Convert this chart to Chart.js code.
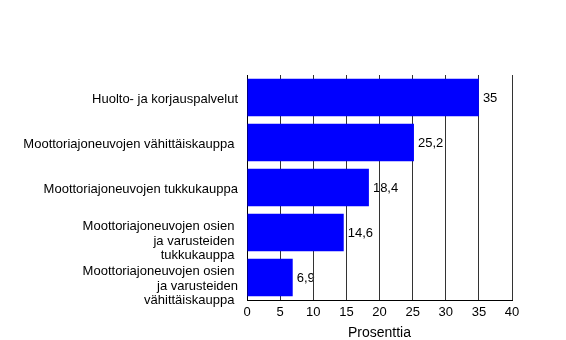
<!DOCTYPE html>
<html>
<head>
<meta charset="utf-8">
<script src="https://cdn.jsdelivr.net/npm/chart.js@4/dist/chart.umd.min.js"></script>
<style>
  body { margin: 0; background: #fff; }
  #wrap { width: 566px; height: 340px; position: relative; }
</style>
</head>
<body>
<div id="wrap"><canvas id="chart"></canvas></div>
<script>
const categories = [
  ['Huolto- ja korjauspalvelut'],
  ['Moottoriajoneuvojen vähittäiskauppa '],
  ['Moottoriajoneuvojen tukkukauppa'],
  ['Moottoriajoneuvojen osien ', 'ja varusteiden ', 'tukkukauppa '],
  ['Moottoriajoneuvojen osien ', 'ja varusteiden', 'vähittäiskauppa ']
];
const shares = [35, 25.2, 18.4, 14.6, 6.9];
const xTicks = [0, 5, 10, 15, 20, 25, 30, 35, 40];
const axisTitle = 'Prosenttia';

Chart.defaults.font.family = '"Liberation Sans", Arial, sans-serif';
Chart.defaults.color = '#000';

// value labels next to the bar ends, finnish decimal comma
const valueLabels = {
  id: 'valueLabels',
  beforeDraw(chart) {
    const ctx = chart.ctx;
    const meta = chart.getDatasetMeta(0);
    ctx.save();
    ctx.font = '13px "Liberation Sans", Arial, sans-serif';
    ctx.fillStyle = '#000';
    ctx.textAlign = 'left';
    ctx.textBaseline = 'middle';
    meta.data.forEach((bar, i) => {
      ctx.fillText(String(shares[i]).replace('.', ','), bar.x + 4, bar.y + 1);
    });
    ctx.restore();
  }
};

new Chart(document.getElementById('chart'), {
  type: 'bar',
  data: {
    labels: categories,
    datasets: [{
      data: shares,
      backgroundColor: '#0000FF',
      borderWidth: 0,
      barPercentage: 0.83,
      categoryPercentage: 1
    }]
  },
  options: {
    indexAxis: 'y',
    responsive: true,
    maintainAspectRatio: false,
    animation: false,
    layout: { padding: { top: 75, right: 54, left: 0, bottom: 0 } },
    plugins: { legend: { display: false }, tooltip: { enabled: false } },
    scales: {
      x: {
        min: 0,
        max: 40,
        afterBuildTicks: s => { s.ticks = xTicks.map(v => ({ value: v })); },
        afterFit: s => { s.height = 40; },
        grid: { color: '#333', lineWidth: 1, drawTicks: false },
        border: { color: '#000', width: 1 },
        ticks: { padding: 5, font: { size: 13 } },
        title: { display: true, text: axisTitle, font: { size: 14, lineHeight: 1 }, padding: { top: 0, bottom: 0 } }
      },
      y: {
        afterFit: s => { s.width = 247; },
        grid: { display: false, drawTicks: false },
        border: { color: '#000', width: 1 },
        ticks: {
          padding: 9,
          labelOffset: 1.5,
          font: { size: 13, lineHeight: 1.12 },
          autoSkip: false,
          // multi-line labels sit a bit lower than centred in the original
          callback: (v, i) => categories[i].length > 1 ? [''].concat(categories[i]) : categories[i]
        }
      }
    }
  },
  plugins: [valueLabels]
});
</script>
</body>
</html>
